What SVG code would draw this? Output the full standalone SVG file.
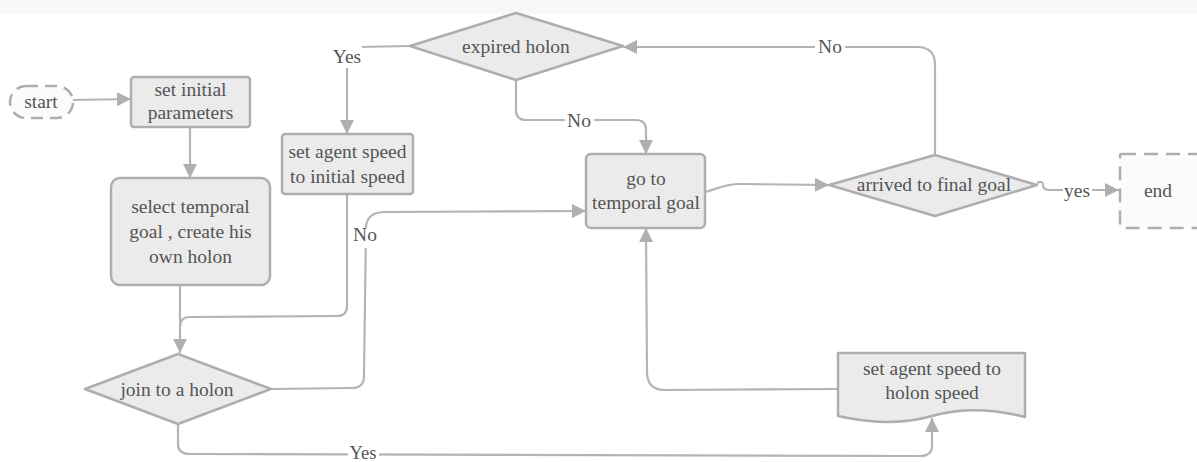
<svg xmlns="http://www.w3.org/2000/svg" width="1197" height="462" viewBox="0 0 1197 462">
<defs>
<style>
.n{fill:#ebebeb;stroke:#aeaeae;stroke-width:2.5;stroke-linejoin:round}
.d{fill:#fbfbfb;stroke:#aeaeae;stroke-width:2.5;stroke-dasharray:14 8}
.t{font-family:'Liberation Serif','Times New Roman','DejaVu Serif',serif;font-size:19.5px;fill:#555;text-anchor:middle}
.c{fill:none;stroke:#b4b4b4;stroke-width:2.2;stroke-linejoin:round}
.lb{fill:#fff}
</style>
<marker id="arr" viewBox="0 0 14 14" refX="14" refY="7" markerWidth="14" markerHeight="14" markerUnits="userSpaceOnUse" orient="auto">
<path d="M0,0 L14,7 L0,14 Z" fill="#b0b0b0"/>
</marker>
</defs>
<rect x="0" y="0" width="1197" height="462" fill="#fff"/>
<rect x="0" y="0" width="1197" height="14" fill="#f8f8fa"/>

<g font-family="Liberation Serif, Times New Roman, DejaVu Serif, serif">
<g id="connectors">
<path class="c" d="M73,100 L131,99" marker-end="url(#arr)"/>
<path class="c" d="M190,127 L190,178" marker-end="url(#arr)"/>
<path class="c" d="M180,285 L180,353" marker-end="url(#arr)"/>
<path class="c" d="M347,194 L347,306 Q347,316 337,316 L190,317 Q180,317 180,327"/>
<path class="c" d="M271,389 L352,388 Q364,388 364,376 L366,226 Q368,212 385,212 L586,211" marker-end="url(#arr)"/>
<path class="c" d="M410,46 L357,47 Q347,47 347,57 L347,134" marker-end="url(#arr)"/>
<path class="c" d="M516,80 L516,110 Q516,120 526,120 L636,120 Q646,120 646,130 L646,154" marker-end="url(#arr)"/>
<path class="c" d="M935,155 L935,65 Q935,47 917,47 L623,47" marker-end="url(#arr)"/>
<path class="c" d="M705,192 C720,188 725,184 740,184 L829,185" marker-end="url(#arr)"/>
<path class="c" d="M1037,183 Q1043,180 1043,185 Q1043,190 1050,190 L1119,190" marker-end="url(#arr)"/>
<path class="c" d="M838,389 L665,390 Q647,390 647,372 L646,228" marker-end="url(#arr)"/>
<path class="c" d="M178,424 L178,444 Q178,454 190,454 L920,456 Q932,456 932,446 L932,418" marker-end="url(#arr)"/>
<rect class="lb" x="333" y="46" width="29" height="22"/>
<text class="t" x="347" y="63">Yes</text>
<rect class="lb" x="815" y="37" width="30" height="20"/>
<text class="t" x="830" y="53">No</text>
<rect class="lb" x="565" y="111" width="29" height="20"/>
<text class="t" x="579" y="127">No</text>
<rect class="lb" x="351" y="228" width="29" height="20"/>
<text class="t" x="365" y="241">No</text>
<rect class="lb" x="1063" y="181" width="29" height="20"/>
<text class="t" x="1077" y="197">yes</text>
<rect class="lb" x="348" y="445" width="31" height="17"/>
<text class="t" x="363" y="459" style="font-size:18.5px">Yes</text>
</g>

<g id="start">
<rect class="d" x="10" y="86" width="63" height="32" rx="16" ry="16" style="stroke-dasharray:12 7"/>
<text class="t" x="41" y="108">start</text>
</g>
<g id="set-initial">
<rect class="n" x="131" y="77" width="119" height="50" rx="3"/>
<text class="t" x="190.5" y="96">set initial</text>
<text class="t" x="190.5" y="119">parameters</text>
</g>
<g id="select-temporal">
<rect class="n" x="111" y="178" width="159" height="107" rx="9"/>
<text class="t" x="190.5" y="213">select temporal</text>
<text class="t" x="190.5" y="238">goal , create his</text>
<text class="t" x="190.5" y="263">own holon</text>
</g>
<g id="set-initial-speed">
<rect class="n" x="282" y="134" width="131" height="60" rx="3"/>
<text class="t" x="347.5" y="158">set agent speed</text>
<text class="t" x="347.5" y="183">to initial speed</text>
</g>
<g id="expired-holon">
<path class="n" d="M410,46 L516,13 L623,46 L516,80 Z"/>
<text class="t" x="516" y="53">expired holon</text>
</g>
<g id="join-holon">
<path class="n" d="M85,389 L178,354 L271,389 L178,424 Z"/>
<text class="t" x="177" y="396">join to a holon</text>
</g>
<g id="go-temporal">
<rect class="n" x="586" y="154" width="119" height="74" rx="5"/>
<text class="t" x="646" y="185">go to</text>
<text class="t" x="646" y="209">temporal goal</text>
</g>
<g id="arrived">
<path class="n" d="M829,185 L935,155 L1037,185 L935,216 Z"/>
<text class="t" x="934" y="191">arrived to final goal</text>
</g>
<g id="end">
<rect class="d" x="1120" y="154" width="85" height="74" rx="2"/>
<text class="t" x="1158" y="197">end</text>
</g>
<g id="holon-speed">
<path class="n" d="M838,353 L1025,353 L1025,417 C990,408 960,408 932,416 C900,425 870,423 838,416 Z"/>
<text class="t" x="932" y="375">set agent speed to</text>
<text class="t" x="932" y="399">holon speed</text>
</g>
</g>
</svg>
